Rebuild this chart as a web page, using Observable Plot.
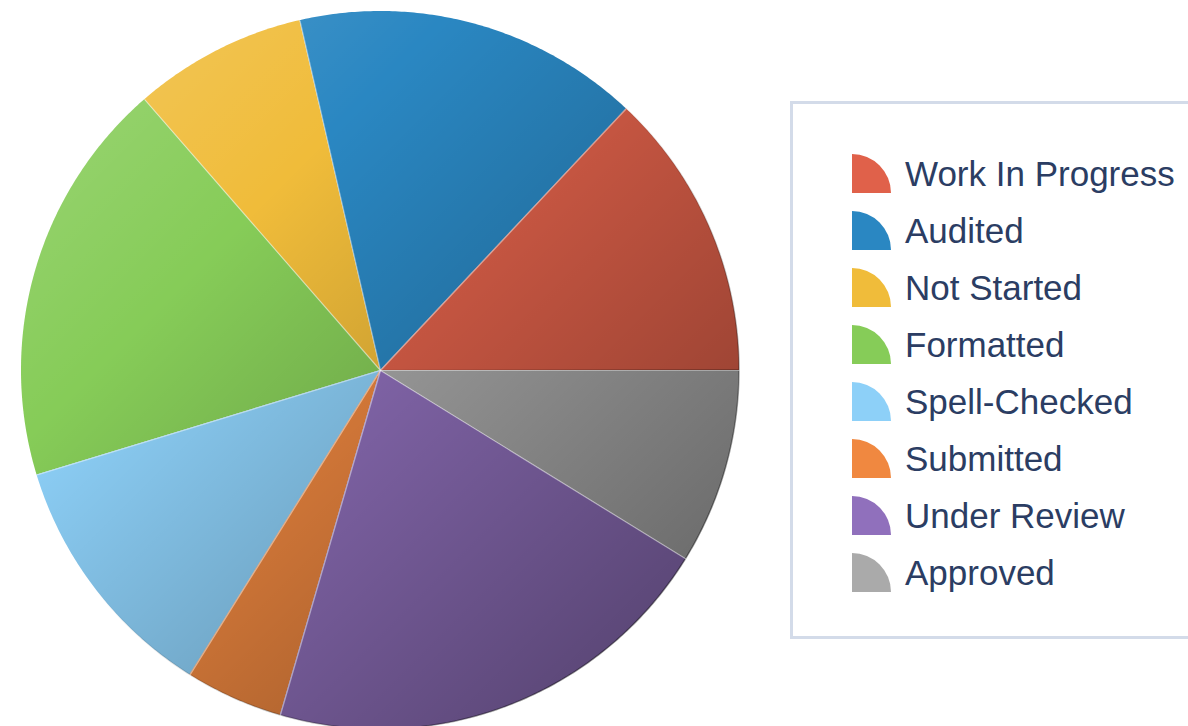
<!DOCTYPE html>
<html>
<head>
<meta charset="utf-8">
<script src="https://cdn.jsdelivr.net/npm/d3@7"></script>
<script src="https://cdn.jsdelivr.net/npm/@observablehq/plot@0.6"></script>
<style>
  html, body { margin: 0; padding: 0; background: #fff; overflow: hidden; width: 1188px; height: 726px; }
  #wrap { position: relative; width: 1188px; height: 726px; }
  #chart svg { display: block; }
  #legend { position: absolute; left: 790px; top: 101px; width: 460px; height: 532px; border: 3px solid #d3dbe9; background: #fff; }
  .item { position: absolute; left: 59px; height: 39px; display: flex; align-items: center; white-space: nowrap; }
  .item svg { display: block; flex: none; }
  .item span { font-family: "Liberation Sans", Arial, sans-serif; font-size: 35px; color: #2b3d63; margin-left: 14px; line-height: 39px; }
</style>
</head>
<body>
<div id="wrap">
  <div id="chart"></div>
  <div id="legend"></div>
</div>
<script>
// ---- data ----
const labels = ["Work In Progress", "Audited", "Not Started", "Formatted", "Spell-Checked", "Submitted", "Under Review", "Approved"];
const values = [13.0, 15.6, 7.8, 18.3, 11.4, 4.4, 20.7, 8.8];
const colors = ["#e0614a", "#2a87c2", "#f0bc3a", "#86cc58", "#8dd0f8", "#f08840", "#9070bc", "#aaaaaa"];

// ---- layout ----
const W = 1188, H = 726;
const cx = 380, cy = 370, R = 359;

// ---- build slice geometry (unit circle, counterclockwise from east) ----
const total = d3.sum(values);
const slicePts = [];
const boundaries = [];
let a0 = 0;
values.forEach((v, i) => {
  const a1 = a0 + (v / total) * 2 * Math.PI;
  boundaries.push({ a: a0, x: Math.cos(a0), y: Math.sin(a0) });
  const n = Math.max(2, Math.ceil((a1 - a0) / (Math.PI / 360)));
  for (let k = 0; k <= n; k++) {
    const a = a0 + (a1 - a0) * k / n;
    slicePts.push({ label: labels[i], x: Math.cos(a), y: Math.sin(a) });
  }
  a0 = a1;
});
const discPts = d3.range(0, 721).map(k => {
  const a = k / 720 * 2 * Math.PI;
  return { x: Math.cos(a), y: Math.sin(a) };
});

const chart = Plot.plot({
  width: W,
  height: H,
  margin: 0,
  style: { background: "transparent", overflow: "visible" },
  x: { domain: [-cx / R, (W - cx) / R], axis: null },
  y: { domain: [-(H - cy) / R, cy / R], axis: null },
  color: { domain: labels, range: colors },
  marks: [
    Plot.area(slicePts, { x1: "x", y1: "y", x2: 0, y2: 0, z: "label", fill: "label", curve: "linear" }),
    Plot.area(discPts, { x1: "x", y1: "y", x2: 0, y2: 0, fill: "url(#shade)", stroke: "url(#edge)", strokeWidth: 1.5, curve: "linear" }),
    Plot.link(boundaries, { x1: 0, y1: 0, x2: "x", y2: "y", stroke: "#ffffff", strokeOpacity: 0.45, strokeWidth: 1.2 })
  ]
});

const defs = d3.select(chart).insert("defs", ":first-child");
const g1 = defs.append("linearGradient").attr("id", "shade").attr("x1", 0).attr("y1", 0).attr("x2", 1).attr("y2", 1);
g1.append("stop").attr("offset", 0).attr("stop-color", "#fff").attr("stop-opacity", 0.2);
g1.append("stop").attr("offset", 0.3).attr("stop-color", "#fff").attr("stop-opacity", 0);
g1.append("stop").attr("offset", 0.3).attr("stop-color", "#000").attr("stop-opacity", 0);
g1.append("stop").attr("offset", 1).attr("stop-color", "#000").attr("stop-opacity", 0.45);
const g2 = defs.append("linearGradient").attr("id", "edge").attr("x1", 0).attr("y1", 0).attr("x2", 1).attr("y2", 1);
g2.append("stop").attr("offset", 0.45).attr("stop-color", "#000").attr("stop-opacity", 0);
g2.append("stop").attr("offset", 1).attr("stop-color", "#000").attr("stop-opacity", 0.6);

document.getElementById("chart").appendChild(chart);

// ---- legend ----
const legend = document.getElementById("legend");
labels.forEach((lab, i) => {
  const item = document.createElement("div");
  item.className = "item";
  item.style.top = (50 + i * 57) + "px";
  item.innerHTML = `<svg width="39" height="39" viewBox="0 0 39 39"><path d="M0,0 A39,39 0 0 1 39,39 L0,39 Z" fill="${colors[i]}"/></svg><span>${lab}</span>`;
  legend.appendChild(item);
});
</script>
</body>
</html>
